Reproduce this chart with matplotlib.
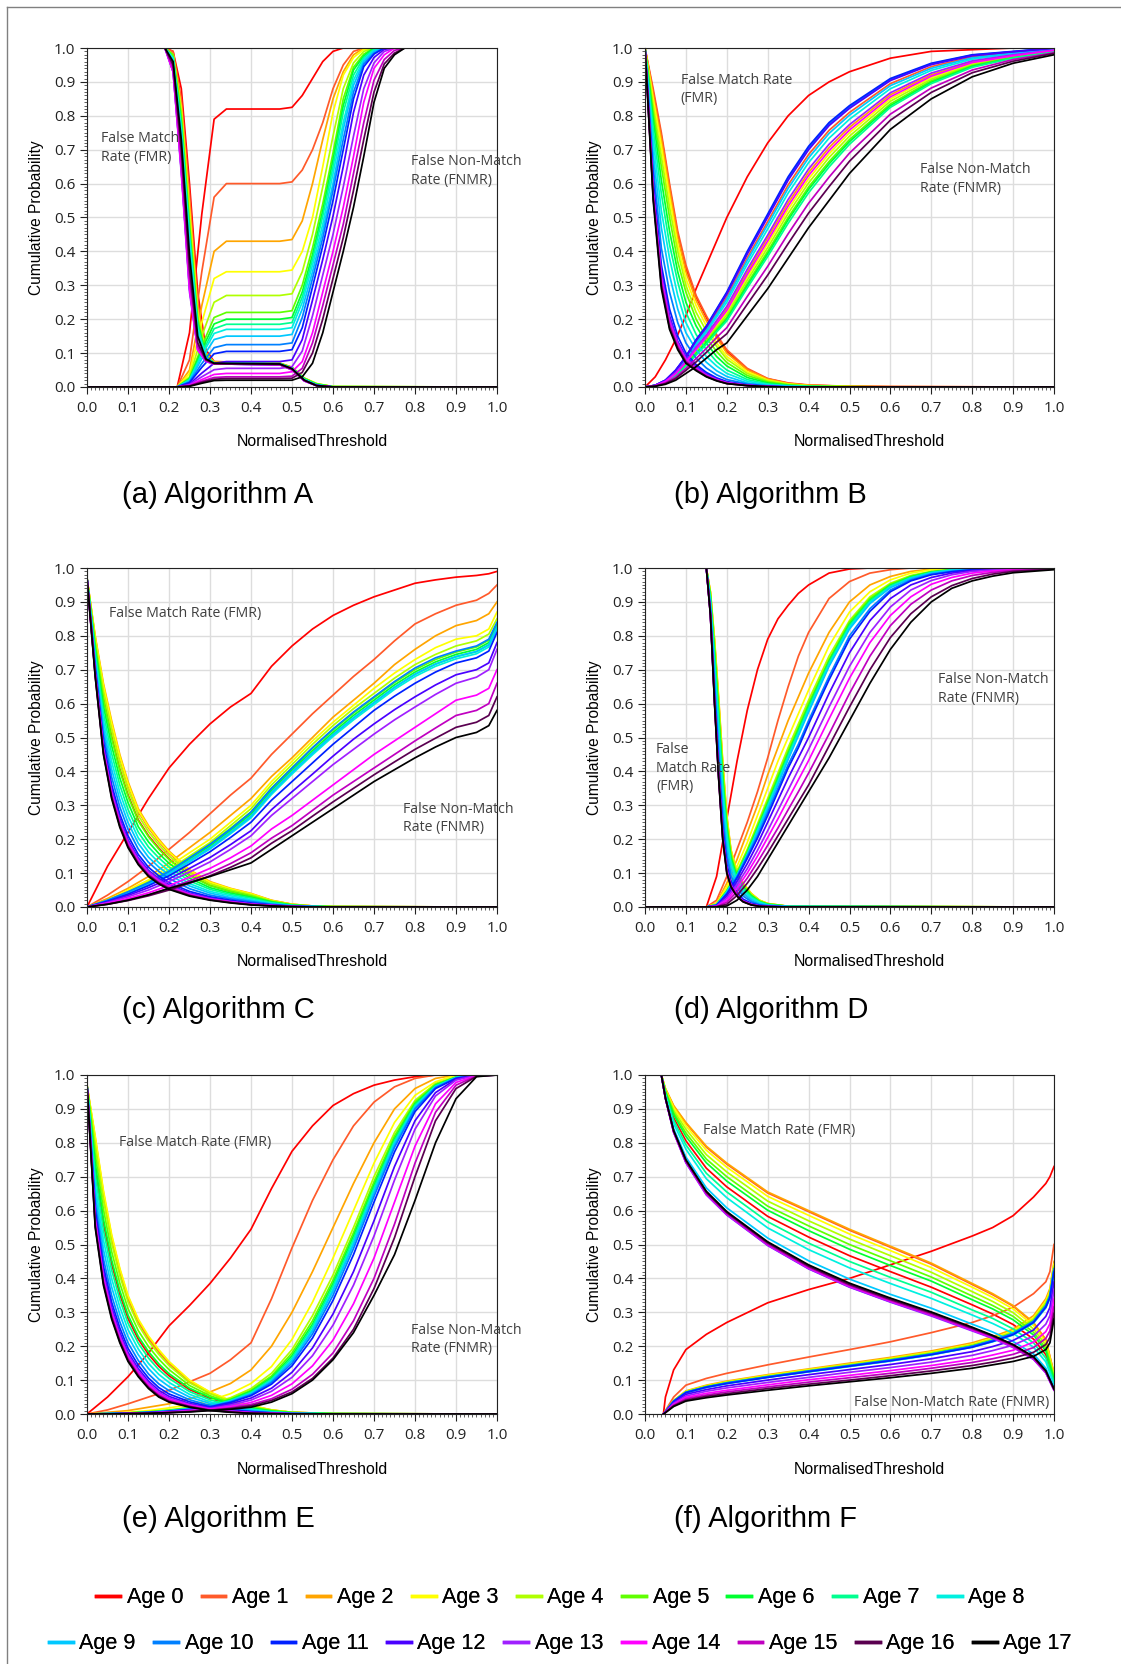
import matplotlib
matplotlib.use("Agg")
import matplotlib.pyplot as plt
from matplotlib.ticker import MultipleLocator
from matplotlib.lines import Line2D

AGES = ["Age %d" % i for i in range(18)]
COLOURS = ['#ff0000', '#ff5a2a', '#ffa500', '#ffff00', '#b0ff00', '#60ff00',
           '#00ff30', '#00ff90', '#00f0e0', '#00c8ff', '#0080ff', '#0020ff',
           '#4a00ff', '#a020ff', '#ff00ff', '#c000c0', '#5a0050', '#000000']

# ---------- (a) Algorithm A ----------
A_FMR_X = [0.0, 0.19, 0.21, 0.23, 0.25, 0.27, 0.29, 0.31, 0.47, 0.50, 0.53, 0.56, 0.60, 1.0]
A_FMR = [
    [1, 1, 0.99, 0.88, 0.60, 0.28, 0.11, 0.075, 0.07, 0.058, 0.025, 0.008, 0, 0],
    [1, 1, 0.99, 0.85, 0.57, 0.25, 0.10, 0.074, 0.07, 0.058, 0.025, 0.008, 0, 0],
    [1, 1, 0.98, 0.83, 0.54, 0.23, 0.10, 0.073, 0.07, 0.058, 0.026, 0.009, 0.001, 0],
    [1, 1, 0.98, 0.82, 0.52, 0.22, 0.095, 0.072, 0.07, 0.058, 0.026, 0.01, 0.001, 0],
    [1, 1, 0.98, 0.81, 0.50, 0.21, 0.095, 0.072, 0.07, 0.057, 0.026, 0.01, 0.001, 0],
    [1, 1, 0.98, 0.80, 0.48, 0.20, 0.09, 0.071, 0.069, 0.057, 0.025, 0.009, 0.001, 0],
    [1, 1, 0.97, 0.78, 0.46, 0.19, 0.09, 0.071, 0.069, 0.056, 0.024, 0.008, 0.001, 0],
    [1, 1, 0.97, 0.77, 0.45, 0.18, 0.088, 0.07, 0.068, 0.056, 0.023, 0.007, 0, 0],
    [1, 1, 0.97, 0.76, 0.44, 0.17, 0.087, 0.07, 0.068, 0.055, 0.022, 0.006, 0, 0],
    [1, 1, 0.96, 0.73, 0.40, 0.155, 0.083, 0.07, 0.068, 0.055, 0.021, 0.006, 0, 0],
    [1, 1, 0.95, 0.70, 0.35, 0.13, 0.08, 0.069, 0.067, 0.054, 0.02, 0.005, 0, 0],
    [1, 1, 0.94, 0.67, 0.32, 0.12, 0.078, 0.068, 0.066, 0.052, 0.019, 0.005, 0, 0],
    [1, 1, 0.93, 0.64, 0.29, 0.11, 0.076, 0.068, 0.066, 0.051, 0.018, 0.004, 0, 0],
    [1, 1, 0.93, 0.63, 0.28, 0.11, 0.075, 0.068, 0.066, 0.05, 0.018, 0.004, 0, 0],
    [1, 1, 0.93, 0.64, 0.29, 0.11, 0.076, 0.068, 0.066, 0.051, 0.018, 0.004, 0, 0],
    [1, 1, 0.94, 0.67, 0.32, 0.12, 0.078, 0.068, 0.066, 0.052, 0.019, 0.004, 0, 0],
    [1, 1, 0.95, 0.70, 0.35, 0.13, 0.08, 0.069, 0.067, 0.053, 0.02, 0.004, 0, 0],
    [1, 1, 0.96, 0.73, 0.39, 0.15, 0.083, 0.07, 0.068, 0.054, 0.02, 0.004, 0, 0],
]
A_FNMR_X = [0.0, 0.22, 0.25, 0.28, 0.31, 0.34, 0.47, 0.50, 0.525, 0.55, 0.575, 0.60,
            0.625, 0.65, 0.675, 0.70, 0.725, 0.75, 0.775, 0.80, 1.0]
A_FNMR = [
    [0, 0, 0.16, 0.51, 0.79, 0.82, 0.82, 0.825, 0.86, 0.91, 0.96, 0.99, 1, 1, 1, 1, 1, 1, 1, 1, 1],
    [0, 0, 0.08, 0.34, 0.56, 0.60, 0.60, 0.605, 0.64, 0.70, 0.78, 0.88, 0.95, 0.99, 1, 1, 1, 1, 1, 1, 1],
    [0, 0, 0.05, 0.24, 0.40, 0.43, 0.43, 0.435, 0.49, 0.60, 0.73, 0.85, 0.93, 0.98, 1, 1, 1, 1, 1, 1, 1],
    [0, 0, 0.04, 0.19, 0.32, 0.34, 0.34, 0.345, 0.40, 0.50, 0.65, 0.81, 0.92, 0.972, 0.996, 1, 1, 1, 1, 1, 1],
    [0, 0, 0.03, 0.15, 0.25, 0.27, 0.27, 0.275, 0.34, 0.45, 0.59, 0.74, 0.88, 0.956, 0.99, 1, 1, 1, 1, 1, 1],
    [0, 0, 0.026, 0.12, 0.205, 0.22, 0.22, 0.225, 0.30, 0.41, 0.54, 0.69, 0.85, 0.943, 0.982, 1, 1, 1, 1, 1, 1],
    [0, 0, 0.024, 0.11, 0.186, 0.20, 0.20, 0.205, 0.28, 0.39, 0.52, 0.67, 0.83, 0.935, 0.977, 1, 1, 1, 1, 1, 1],
    [0, 0, 0.022, 0.10, 0.172, 0.185, 0.185, 0.19, 0.265, 0.376, 0.504, 0.65, 0.81, 0.92, 0.972, 0.996, 1, 1, 1, 1, 1],
    [0, 0, 0.02, 0.094, 0.158, 0.17, 0.17, 0.175, 0.25, 0.36, 0.48, 0.63, 0.78, 0.905, 0.966, 0.993, 1, 1, 1, 1, 1],
    [0, 0, 0.018, 0.083, 0.14, 0.15, 0.15, 0.155, 0.23, 0.34, 0.46, 0.60, 0.76, 0.89, 0.96, 0.99, 1, 1, 1, 1, 1],
    [0, 0, 0.015, 0.069, 0.116, 0.125, 0.125, 0.13, 0.205, 0.32, 0.44, 0.58, 0.73, 0.87, 0.953, 0.985, 1, 1, 1, 1, 1],
    [0, 0, 0.013, 0.058, 0.098, 0.105, 0.105, 0.11, 0.175, 0.295, 0.416, 0.55, 0.70, 0.85, 0.945, 0.982, 1, 1, 1, 1, 1],
    [0, 0, 0.009, 0.041, 0.07, 0.075, 0.075, 0.08, 0.14, 0.256, 0.376, 0.504, 0.65, 0.81, 0.92, 0.972, 0.996, 1, 1, 1, 1],
    [0, 0, 0.007, 0.03, 0.051, 0.055, 0.055, 0.06, 0.106, 0.21, 0.33, 0.45, 0.59, 0.74, 0.88, 0.956, 0.99, 1, 1, 1, 1],
    [0, 0, 0.005, 0.022, 0.037, 0.04, 0.04, 0.045, 0.075, 0.16, 0.28, 0.40, 0.53, 0.68, 0.84, 0.94, 0.98, 1, 1, 1, 1],
    [0, 0, 0.004, 0.017, 0.028, 0.03, 0.03, 0.032, 0.055, 0.13, 0.24, 0.36, 0.48, 0.63, 0.78, 0.905, 0.966, 0.993, 1, 1, 1],
    [0, 0, 0.003, 0.014, 0.023, 0.025, 0.025, 0.026, 0.043, 0.10, 0.20, 0.32, 0.44, 0.58, 0.73, 0.87, 0.953, 0.985, 1, 1, 1],
    [0, 0, 0.002, 0.011, 0.019, 0.02, 0.02, 0.02, 0.03, 0.07, 0.16, 0.28, 0.40, 0.53, 0.68, 0.84, 0.94, 0.98, 1, 1, 1],
]

# ---------- (b) Algorithm B ----------
B_FMR_X = [0, 0.02, 0.04, 0.06, 0.08, 0.10, 0.125, 0.15, 0.175, 0.20, 0.25, 0.30, 0.35, 0.40, 0.50, 0.60, 1.0]
B_FMR = [
    [1.0, 0.87, 0.74, 0.59, 0.45, 0.35, 0.265, 0.205, 0.15, 0.105, 0.052, 0.024, 0.011, 0.005, 0.002, 0.001, 0],
    [1.0, 0.88, 0.75, 0.60, 0.46, 0.36, 0.27, 0.21, 0.155, 0.11, 0.055, 0.025, 0.012, 0.006, 0.002, 0.001, 0],
    [1.0, 0.86, 0.73, 0.58, 0.44, 0.34, 0.255, 0.195, 0.145, 0.10, 0.05, 0.023, 0.01, 0.005, 0.002, 0.001, 0],
    [1.0, 0.85, 0.71, 0.56, 0.42, 0.32, 0.24, 0.18, 0.13, 0.09, 0.045, 0.02, 0.009, 0.004, 0.001, 0, 0],
    [1.0, 0.83, 0.68, 0.53, 0.40, 0.30, 0.22, 0.165, 0.12, 0.082, 0.04, 0.018, 0.008, 0.003, 0.001, 0, 0],
    [1.0, 0.81, 0.65, 0.50, 0.37, 0.28, 0.20, 0.145, 0.105, 0.072, 0.034, 0.015, 0.006, 0.003, 0.001, 0, 0],
    [1.0, 0.79, 0.61, 0.46, 0.34, 0.25, 0.18, 0.13, 0.09, 0.062, 0.028, 0.012, 0.005, 0.002, 0, 0, 0],
    [1.0, 0.76, 0.57, 0.42, 0.31, 0.22, 0.155, 0.11, 0.075, 0.05, 0.022, 0.009, 0.004, 0.001, 0, 0, 0],
    [1.0, 0.73, 0.52, 0.38, 0.27, 0.19, 0.13, 0.09, 0.062, 0.04, 0.017, 0.007, 0.003, 0.001, 0, 0, 0],
    [1.0, 0.69, 0.47, 0.33, 0.23, 0.16, 0.11, 0.073, 0.048, 0.031, 0.012, 0.005, 0.002, 0, 0, 0, 0],
    [1.0, 0.65, 0.41, 0.28, 0.19, 0.13, 0.085, 0.056, 0.036, 0.022, 0.009, 0.003, 0.001, 0, 0, 0, 0],
    [1.0, 0.61, 0.36, 0.23, 0.15, 0.10, 0.066, 0.043, 0.027, 0.016, 0.006, 0.002, 0, 0, 0, 0, 0],
    [1.0, 0.59, 0.34, 0.21, 0.135, 0.09, 0.06, 0.038, 0.024, 0.014, 0.005, 0.002, 0, 0, 0, 0, 0],
    [1.0, 0.58, 0.33, 0.20, 0.13, 0.085, 0.057, 0.036, 0.022, 0.013, 0.005, 0.001, 0, 0, 0, 0, 0],
    [1.0, 0.57, 0.32, 0.19, 0.125, 0.08, 0.054, 0.034, 0.021, 0.012, 0.005, 0.001, 0, 0, 0, 0, 0],
    [1.0, 0.565, 0.31, 0.185, 0.12, 0.077, 0.052, 0.033, 0.02, 0.011, 0.004, 0.001, 0, 0, 0, 0, 0],
    [1.0, 0.56, 0.30, 0.175, 0.115, 0.073, 0.05, 0.031, 0.019, 0.01, 0.004, 0.001, 0, 0, 0, 0, 0],
    [1.0, 0.55, 0.29, 0.17, 0.11, 0.07, 0.048, 0.03, 0.018, 0.01, 0.004, 0.001, 0, 0, 0, 0, 0],
]
B_FNMR_X = [0, 0.025, 0.05, 0.075, 0.1, 0.125, 0.15, 0.175, 0.2, 0.25, 0.3, 0.35, 0.4, 0.45,
            0.5, 0.6, 0.7, 0.8, 0.9, 1.0]
B_FNMR = [
    [0, 0.03, 0.08, 0.14, 0.21, 0.29, 0.36, 0.43, 0.50, 0.62, 0.72, 0.80, 0.86, 0.90, 0.93, 0.97, 0.99, 0.995, 1.0, 1.0],
    [0, 0.005, 0.019, 0.047, 0.085, 0.132, 0.17, 0.218, 0.265, 0.381, 0.488, 0.596, 0.686, 0.757, 0.81, 0.895, 0.945, 0.974, 0.987, 0.998],
    [0, 0.004, 0.016, 0.04, 0.074, 0.114, 0.15, 0.192, 0.232, 0.339, 0.44, 0.543, 0.633, 0.706, 0.766, 0.862, 0.921, 0.959, 0.979, 0.994],
    [0, 0.004, 0.015, 0.038, 0.07, 0.108, 0.142, 0.182, 0.22, 0.324, 0.422, 0.524, 0.614, 0.688, 0.75, 0.85, 0.913, 0.954, 0.976, 0.992],
    [0, 0.004, 0.015, 0.037, 0.068, 0.104, 0.137, 0.176, 0.213, 0.315, 0.411, 0.512, 0.602, 0.677, 0.74, 0.843, 0.908, 0.951, 0.974, 0.991],
    [0, 0.004, 0.014, 0.035, 0.065, 0.10, 0.133, 0.17, 0.205, 0.305, 0.40, 0.50, 0.59, 0.665, 0.73, 0.835, 0.903, 0.948, 0.973, 0.99],
    [0, 0.003, 0.014, 0.034, 0.064, 0.098, 0.13, 0.166, 0.2, 0.299, 0.393, 0.493, 0.583, 0.658, 0.724, 0.83, 0.899, 0.946, 0.971, 0.989],
    [0, 0.003, 0.013, 0.033, 0.062, 0.094, 0.126, 0.162, 0.195, 0.292, 0.385, 0.483, 0.573, 0.649, 0.716, 0.825, 0.895, 0.943, 0.97, 0.989],
    [0, 0.004, 0.018, 0.044, 0.08, 0.124, 0.161, 0.206, 0.25, 0.362, 0.466, 0.572, 0.662, 0.734, 0.79, 0.88, 0.934, 0.967, 0.983, 0.996],
    [0, 0.005, 0.018, 0.046, 0.083, 0.129, 0.167, 0.213, 0.259, 0.373, 0.479, 0.586, 0.676, 0.748, 0.802, 0.889, 0.94, 0.971, 0.985, 0.997],
    [0, 0.005, 0.02, 0.049, 0.089, 0.138, 0.178, 0.228, 0.277, 0.396, 0.506, 0.615, 0.705, 0.775, 0.826, 0.907, 0.953, 0.979, 0.989, 1.0],
    [0, 0.005, 0.02, 0.05, 0.09, 0.14, 0.18, 0.23, 0.28, 0.40, 0.51, 0.62, 0.71, 0.78, 0.83, 0.91, 0.955, 0.98, 0.99, 1.0],
    [0, 0.005, 0.02, 0.049, 0.088, 0.137, 0.176, 0.225, 0.274, 0.392, 0.501, 0.61, 0.70, 0.771, 0.822, 0.904, 0.951, 0.977, 0.989, 0.999],
    [0, 0.004, 0.017, 0.042, 0.076, 0.118, 0.153, 0.196, 0.238, 0.347, 0.448, 0.553, 0.643, 0.716, 0.774, 0.868, 0.926, 0.962, 0.98, 0.994],
    [0, 0.004, 0.016, 0.039, 0.072, 0.111, 0.146, 0.187, 0.226, 0.332, 0.431, 0.534, 0.624, 0.697, 0.758, 0.856, 0.917, 0.957, 0.977, 0.993],
    [0, 0.003, 0.012, 0.029, 0.055, 0.084, 0.114, 0.146, 0.175, 0.267, 0.356, 0.452, 0.542, 0.619, 0.69, 0.805, 0.882, 0.935, 0.966, 0.986],
    [0, 0.003, 0.01, 0.025, 0.049, 0.074, 0.102, 0.132, 0.157, 0.244, 0.33, 0.423, 0.513, 0.591, 0.666, 0.787, 0.869, 0.927, 0.961, 0.984],
    [0, 0.002, 0.008, 0.02, 0.04, 0.06, 0.085, 0.11, 0.13, 0.21, 0.29, 0.38, 0.47, 0.55, 0.63, 0.76, 0.85, 0.915, 0.955, 0.98],
]

# ---------- (c) Algorithm C ----------
C_FMR_X = [0, 0.02, 0.04, 0.06, 0.08, 0.10, 0.125, 0.15, 0.175, 0.20, 0.25, 0.30, 0.35, 0.40,
           0.45, 0.50, 0.55, 0.60, 1.0]
C_FMR = [
    [0.97, 0.776, 0.618, 0.504, 0.407, 0.331, 0.257, 0.21, 0.174, 0.142, 0.094, 0.064, 0.046, 0.033, 0.017, 0.007, 0.002, 0.001, 0],
    [0.97, 0.794, 0.65, 0.539, 0.439, 0.36, 0.282, 0.233, 0.193, 0.159, 0.106, 0.072, 0.053, 0.038, 0.019, 0.008, 0.003, 0.001, 0],
    [0.97, 0.80, 0.66, 0.55, 0.45, 0.37, 0.29, 0.24, 0.20, 0.165, 0.11, 0.075, 0.055, 0.04, 0.02, 0.008, 0.003, 0.001, 0],
    [0.97, 0.796, 0.654, 0.543, 0.444, 0.364, 0.285, 0.236, 0.196, 0.162, 0.108, 0.073, 0.054, 0.039, 0.019, 0.008, 0.003, 0.001, 0],
    [0.97, 0.786, 0.635, 0.522, 0.424, 0.347, 0.27, 0.222, 0.184, 0.151, 0.101, 0.068, 0.05, 0.036, 0.018, 0.007, 0.003, 0.001, 0],
    [0.97, 0.774, 0.614, 0.499, 0.403, 0.327, 0.254, 0.207, 0.171, 0.14, 0.093, 0.063, 0.046, 0.033, 0.016, 0.006, 0.002, 0.001, 0],
    [0.97, 0.762, 0.593, 0.476, 0.381, 0.308, 0.237, 0.192, 0.158, 0.129, 0.085, 0.057, 0.041, 0.029, 0.015, 0.006, 0.002, 0.001, 0],
    [0.97, 0.75, 0.572, 0.453, 0.36, 0.288, 0.221, 0.177, 0.145, 0.118, 0.077, 0.052, 0.037, 0.026, 0.013, 0.005, 0.002, 0, 0],
    [0.97, 0.738, 0.551, 0.43, 0.338, 0.269, 0.204, 0.162, 0.131, 0.106, 0.069, 0.046, 0.033, 0.022, 0.011, 0.004, 0.001, 0, 0],
    [0.97, 0.726, 0.53, 0.407, 0.317, 0.249, 0.188, 0.147, 0.118, 0.095, 0.062, 0.041, 0.028, 0.019, 0.009, 0.004, 0.001, 0, 0],
    [0.97, 0.714, 0.509, 0.384, 0.295, 0.23, 0.171, 0.132, 0.105, 0.084, 0.054, 0.035, 0.024, 0.016, 0.008, 0.003, 0.001, 0, 0],
    [0.97, 0.702, 0.488, 0.361, 0.274, 0.21, 0.155, 0.117, 0.092, 0.072, 0.046, 0.03, 0.02, 0.012, 0.006, 0.002, 0.001, 0, 0],
    [0.97, 0.694, 0.475, 0.348, 0.261, 0.198, 0.145, 0.108, 0.084, 0.066, 0.041, 0.027, 0.017, 0.01, 0.005, 0.002, 0, 0, 0],
    [0.97, 0.691, 0.469, 0.341, 0.254, 0.193, 0.14, 0.104, 0.08, 0.062, 0.039, 0.025, 0.016, 0.009, 0.005, 0.002, 0, 0, 0],
    [0.97, 0.687, 0.463, 0.334, 0.248, 0.187, 0.135, 0.099, 0.076, 0.059, 0.037, 0.023, 0.015, 0.008, 0.004, 0.001, 0, 0, 0],
    [0.97, 0.685, 0.458, 0.329, 0.244, 0.183, 0.132, 0.096, 0.073, 0.057, 0.035, 0.022, 0.014, 0.007, 0.004, 0.001, 0, 0, 0],
    [0.97, 0.682, 0.454, 0.325, 0.239, 0.179, 0.128, 0.093, 0.071, 0.054, 0.034, 0.021, 0.013, 0.007, 0.003, 0.001, 0, 0, 0],
    [0.97, 0.68, 0.45, 0.32, 0.235, 0.175, 0.125, 0.09, 0.068, 0.052, 0.032, 0.02, 0.012, 0.006, 0.003, 0.001, 0, 0, 0],
]
C_FNMR_X = [0, 0.05, 0.1, 0.15, 0.2, 0.25, 0.3, 0.35, 0.4, 0.45, 0.5, 0.55, 0.6, 0.65, 0.7,
            0.75, 0.8, 0.85, 0.9, 0.95, 0.98, 1.0]
C_FNMR = [
    [0, 0.12, 0.22, 0.32, 0.41, 0.48, 0.54, 0.59, 0.63, 0.71, 0.77, 0.82, 0.86, 0.89, 0.915, 0.935, 0.955, 0.965, 0.973, 0.978, 0.983, 0.99],
    [0, 0.035, 0.075, 0.12, 0.17, 0.22, 0.275, 0.33, 0.38, 0.45, 0.51, 0.57, 0.625, 0.68, 0.73, 0.785, 0.835, 0.865, 0.89, 0.905, 0.925, 0.95],
    [0, 0.025, 0.055, 0.09, 0.13, 0.175, 0.22, 0.27, 0.32, 0.385, 0.44, 0.50, 0.56, 0.61, 0.66, 0.715, 0.76, 0.80, 0.83, 0.845, 0.865, 0.90],
    [0, 0.02, 0.05, 0.08, 0.12, 0.16, 0.20, 0.25, 0.30, 0.37, 0.43, 0.49, 0.545, 0.595, 0.645, 0.69, 0.73, 0.765, 0.79, 0.80, 0.82, 0.87],
    [0, 0.02, 0.045, 0.075, 0.11, 0.15, 0.19, 0.24, 0.29, 0.36, 0.42, 0.48, 0.535, 0.585, 0.63, 0.675, 0.715, 0.745, 0.77, 0.785, 0.805, 0.85],
    [0, 0.019, 0.043, 0.072, 0.106, 0.145, 0.185, 0.232, 0.28, 0.35, 0.41, 0.468, 0.522, 0.572, 0.617, 0.662, 0.70, 0.73, 0.752, 0.767, 0.787, 0.835],
    [0, 0.018, 0.042, 0.07, 0.103, 0.141, 0.18, 0.226, 0.274, 0.344, 0.404, 0.461, 0.515, 0.565, 0.61, 0.655, 0.693, 0.723, 0.745, 0.76, 0.78, 0.83],
    [0, 0.018, 0.041, 0.068, 0.1, 0.137, 0.175, 0.221, 0.268, 0.338, 0.398, 0.455, 0.509, 0.558, 0.603, 0.648, 0.686, 0.716, 0.738, 0.753, 0.773, 0.825],
    [0, 0.017, 0.04, 0.066, 0.097, 0.133, 0.171, 0.216, 0.263, 0.332, 0.392, 0.449, 0.503, 0.552, 0.597, 0.642, 0.68, 0.71, 0.732, 0.747, 0.767, 0.82],
    [0, 0.017, 0.04, 0.067, 0.099, 0.136, 0.174, 0.219, 0.267, 0.337, 0.397, 0.454, 0.508, 0.558, 0.603, 0.648, 0.687, 0.717, 0.739, 0.754, 0.774, 0.825],
    [0, 0.02, 0.045, 0.072, 0.105, 0.145, 0.185, 0.23, 0.28, 0.35, 0.41, 0.47, 0.525, 0.575, 0.62, 0.665, 0.705, 0.735, 0.755, 0.77, 0.79, 0.84],
    [0, 0.017, 0.038, 0.063, 0.092, 0.127, 0.163, 0.205, 0.25, 0.315, 0.37, 0.425, 0.48, 0.53, 0.58, 0.622, 0.66, 0.693, 0.72, 0.735, 0.755, 0.81],
    [0, 0.015, 0.034, 0.057, 0.083, 0.114, 0.146, 0.184, 0.225, 0.287, 0.34, 0.392, 0.445, 0.495, 0.54, 0.582, 0.62, 0.655, 0.685, 0.70, 0.72, 0.78],
    [0, 0.013, 0.03, 0.05, 0.075, 0.103, 0.133, 0.17, 0.21, 0.27, 0.32, 0.37, 0.42, 0.465, 0.51, 0.552, 0.59, 0.627, 0.66, 0.678, 0.70, 0.76],
    [0, 0.011, 0.025, 0.042, 0.063, 0.088, 0.114, 0.145, 0.18, 0.23, 0.27, 0.315, 0.36, 0.405, 0.45, 0.49, 0.53, 0.57, 0.61, 0.625, 0.645, 0.70],
    [0, 0.009, 0.021, 0.036, 0.055, 0.077, 0.1, 0.128, 0.16, 0.203, 0.24, 0.285, 0.33, 0.37, 0.41, 0.45, 0.49, 0.528, 0.565, 0.58, 0.60, 0.66],
    [0, 0.008, 0.019, 0.033, 0.05, 0.07, 0.092, 0.117, 0.145, 0.188, 0.225, 0.268, 0.31, 0.35, 0.39, 0.428, 0.465, 0.498, 0.53, 0.545, 0.565, 0.62],
    [0, 0.008, 0.02, 0.036, 0.055, 0.072, 0.09, 0.11, 0.13, 0.17, 0.21, 0.25, 0.29, 0.33, 0.37, 0.405, 0.44, 0.472, 0.50, 0.515, 0.535, 0.58],
]

# ---------- (d) Algorithm D ----------
D_FMR_X = [0, 0.15, 0.16, 0.17, 0.18, 0.19, 0.20, 0.21, 0.22, 0.23, 0.24, 0.26, 0.28, 0.30, 0.35, 1.0]
D_FMR = [
    [1, 1, 0.892, 0.686, 0.488, 0.303, 0.177, 0.11, 0.078, 0.059, 0.04, 0.021, 0.01, 0.005, 0.001, 0],
    [1, 1, 0.927, 0.78, 0.608, 0.419, 0.262, 0.165, 0.121, 0.096, 0.067, 0.038, 0.019, 0.01, 0.002, 0],
    [1, 1, 0.93, 0.79, 0.62, 0.43, 0.27, 0.17, 0.125, 0.10, 0.07, 0.04, 0.02, 0.01, 0.002, 0],
    [1, 1, 0.929, 0.786, 0.615, 0.425, 0.267, 0.168, 0.123, 0.099, 0.069, 0.039, 0.02, 0.01, 0.002, 0],
    [1, 1, 0.924, 0.775, 0.601, 0.412, 0.256, 0.161, 0.118, 0.094, 0.066, 0.037, 0.019, 0.009, 0.002, 0],
    [1, 1, 0.92, 0.762, 0.584, 0.396, 0.245, 0.154, 0.112, 0.089, 0.062, 0.035, 0.017, 0.009, 0.002, 0],
    [1, 1, 0.915, 0.748, 0.567, 0.379, 0.233, 0.146, 0.106, 0.084, 0.058, 0.033, 0.016, 0.008, 0.002, 0],
    [1, 1, 0.909, 0.733, 0.548, 0.361, 0.219, 0.137, 0.1, 0.078, 0.054, 0.03, 0.015, 0.007, 0.001, 0],
    [1, 1, 0.902, 0.714, 0.524, 0.338, 0.202, 0.126, 0.091, 0.07, 0.048, 0.026, 0.013, 0.006, 0.001, 0],
    [1, 1, 0.892, 0.686, 0.488, 0.303, 0.177, 0.11, 0.078, 0.059, 0.04, 0.021, 0.01, 0.005, 0.001, 0],
    [1, 1, 0.881, 0.657, 0.452, 0.269, 0.151, 0.093, 0.066, 0.048, 0.032, 0.016, 0.007, 0.004, 0.001, 0],
    [1, 1, 0.87, 0.629, 0.416, 0.235, 0.126, 0.077, 0.053, 0.036, 0.023, 0.011, 0.005, 0.002, 0, 0],
    [1, 1, 0.866, 0.615, 0.399, 0.218, 0.114, 0.069, 0.047, 0.031, 0.019, 0.009, 0.003, 0.002, 0, 0],
    [1, 1, 0.864, 0.61, 0.392, 0.212, 0.109, 0.066, 0.044, 0.029, 0.018, 0.008, 0.003, 0.001, 0, 0],
    [1, 1, 0.862, 0.606, 0.387, 0.207, 0.105, 0.063, 0.042, 0.027, 0.017, 0.007, 0.003, 0.001, 0, 0],
    [1, 1, 0.861, 0.604, 0.385, 0.205, 0.103, 0.062, 0.042, 0.026, 0.016, 0.007, 0.002, 0.001, 0, 0],
    [1, 1, 0.861, 0.602, 0.382, 0.202, 0.102, 0.061, 0.041, 0.026, 0.016, 0.006, 0.002, 0.001, 0, 0],
    [1, 1, 0.86, 0.60, 0.38, 0.20, 0.10, 0.06, 0.04, 0.025, 0.015, 0.006, 0.002, 0.001, 0, 0],
]
D_FNMR_X = [0, 0.15, 0.175, 0.2, 0.225, 0.25, 0.275, 0.3, 0.325, 0.35, 0.375, 0.4, 0.45, 0.5,
            0.55, 0.6, 0.65, 0.7, 0.75, 0.8, 0.85, 0.9, 1.0]
D_FNMR = [
    [0, 0, 0.09, 0.26, 0.43, 0.58, 0.70, 0.79, 0.85, 0.89, 0.925, 0.95, 0.985, 0.997, 1, 1, 1, 1, 1, 1, 1, 1, 1],
    [0, 0, 0.02, 0.09, 0.17, 0.25, 0.34, 0.44, 0.55, 0.65, 0.74, 0.81, 0.91, 0.96, 0.985, 0.995, 1, 1, 1, 1, 1, 1, 1],
    [0, 0, 0.012, 0.07, 0.14, 0.22, 0.30, 0.39, 0.47, 0.55, 0.62, 0.69, 0.81, 0.90, 0.95, 0.975, 0.99, 0.997, 1, 1, 1, 1, 1],
    [0, 0, 0.01, 0.06, 0.12, 0.19, 0.27, 0.35, 0.43, 0.50, 0.57, 0.64, 0.77, 0.87, 0.93, 0.965, 0.985, 0.995, 1, 1, 1, 1, 1],
    [0, 0, 0.008, 0.05, 0.105, 0.17, 0.245, 0.32, 0.395, 0.47, 0.54, 0.61, 0.74, 0.845, 0.915, 0.955, 0.978, 0.99, 0.996, 1, 1, 1, 1],
    [0, 0, 0.007, 0.048, 0.1, 0.165, 0.238, 0.312, 0.386, 0.46, 0.53, 0.60, 0.73, 0.84, 0.91, 0.952, 0.976, 0.989, 0.995, 1, 1, 1, 1],
    [0, 0, 0.007, 0.046, 0.097, 0.16, 0.232, 0.305, 0.378, 0.452, 0.522, 0.592, 0.724, 0.834, 0.905, 0.949, 0.974, 0.988, 0.995, 0.998, 1, 1, 1],
    [0, 0, 0.006, 0.045, 0.095, 0.157, 0.228, 0.30, 0.373, 0.447, 0.517, 0.587, 0.72, 0.83, 0.902, 0.947, 0.972, 0.987, 0.994, 0.998, 1, 1, 1],
    [0, 0, 0.006, 0.044, 0.093, 0.154, 0.224, 0.295, 0.367, 0.44, 0.51, 0.58, 0.714, 0.825, 0.898, 0.944, 0.97, 0.986, 0.994, 0.998, 1, 1, 1],
    [0, 0, 0.006, 0.043, 0.091, 0.151, 0.22, 0.29, 0.362, 0.435, 0.505, 0.575, 0.71, 0.82, 0.895, 0.942, 0.969, 0.985, 0.993, 0.997, 1, 1, 1],
    [0, 0, 0.005, 0.04, 0.09, 0.15, 0.21, 0.28, 0.35, 0.42, 0.48, 0.55, 0.68, 0.80, 0.88, 0.935, 0.965, 0.982, 0.99, 0.995, 1, 1, 1],
    [0, 0, 0.005, 0.038, 0.086, 0.143, 0.203, 0.27, 0.34, 0.41, 0.47, 0.54, 0.67, 0.79, 0.872, 0.93, 0.962, 0.98, 0.989, 0.995, 0.998, 1, 1],
    [0, 0, 0.004, 0.032, 0.076, 0.128, 0.186, 0.25, 0.315, 0.38, 0.44, 0.50, 0.63, 0.75, 0.845, 0.91, 0.95, 0.972, 0.985, 0.992, 0.996, 0.998, 1],
    [0, 0, 0.003, 0.026, 0.066, 0.113, 0.167, 0.225, 0.285, 0.345, 0.405, 0.465, 0.59, 0.71, 0.81, 0.885, 0.935, 0.963, 0.98, 0.99, 0.994, 0.997, 1],
    [0, 0, 0.002, 0.02, 0.056, 0.1, 0.15, 0.205, 0.26, 0.318, 0.375, 0.432, 0.555, 0.675, 0.78, 0.86, 0.915, 0.952, 0.972, 0.985, 0.991, 0.995, 0.999],
    [0, 0, 0.001, 0.014, 0.045, 0.085, 0.132, 0.182, 0.233, 0.287, 0.34, 0.395, 0.51, 0.63, 0.74, 0.83, 0.893, 0.935, 0.962, 0.978, 0.987, 0.993, 0.998],
    [0, 0, 0.001, 0.008, 0.034, 0.07, 0.113, 0.16, 0.21, 0.26, 0.31, 0.36, 0.475, 0.59, 0.70, 0.795, 0.865, 0.915, 0.948, 0.969, 0.982, 0.99, 0.997],
    [0, 0, 0, 0.003, 0.02, 0.05, 0.09, 0.14, 0.19, 0.24, 0.29, 0.34, 0.44, 0.55, 0.66, 0.76, 0.84, 0.90, 0.94, 0.962, 0.976, 0.986, 0.995],
]

# ---------- (e) Algorithm E ----------
E_FMR_X = [0, 0.02, 0.04, 0.06, 0.08, 0.10, 0.125, 0.15, 0.175, 0.2, 0.25, 0.3, 0.35, 0.4,
           0.45, 0.5, 0.6, 1.0]
E_FMR = [
    [0.97, 0.726, 0.562, 0.443, 0.353, 0.282, 0.221, 0.176, 0.141, 0.113, 0.072, 0.046, 0.028, 0.017, 0.008, 0.003, 0.001, 0],
    [0.97, 0.807, 0.646, 0.518, 0.419, 0.34, 0.272, 0.222, 0.183, 0.149, 0.096, 0.062, 0.038, 0.024, 0.011, 0.005, 0.001, 0],
    [0.97, 0.815, 0.654, 0.525, 0.426, 0.346, 0.277, 0.227, 0.187, 0.153, 0.098, 0.064, 0.039, 0.025, 0.012, 0.005, 0.001, 0],
    [0.97, 0.82, 0.66, 0.53, 0.43, 0.35, 0.28, 0.23, 0.19, 0.155, 0.1, 0.065, 0.04, 0.025, 0.012, 0.005, 0.001, 0],
    [0.97, 0.793, 0.632, 0.505, 0.408, 0.331, 0.263, 0.215, 0.176, 0.143, 0.092, 0.06, 0.037, 0.023, 0.011, 0.005, 0.001, 0],
    [0.97, 0.766, 0.604, 0.48, 0.386, 0.311, 0.246, 0.199, 0.162, 0.131, 0.084, 0.054, 0.033, 0.02, 0.01, 0.004, 0.001, 0],
    [0.97, 0.739, 0.576, 0.455, 0.364, 0.292, 0.229, 0.184, 0.148, 0.119, 0.076, 0.049, 0.03, 0.018, 0.009, 0.004, 0.001, 0],
    [0.97, 0.707, 0.542, 0.425, 0.338, 0.268, 0.209, 0.165, 0.131, 0.105, 0.066, 0.042, 0.025, 0.015, 0.007, 0.003, 0.001, 0],
    [0.97, 0.68, 0.514, 0.40, 0.316, 0.249, 0.192, 0.149, 0.117, 0.093, 0.058, 0.036, 0.022, 0.013, 0.006, 0.002, 0, 0],
    [0.97, 0.653, 0.486, 0.375, 0.294, 0.229, 0.175, 0.134, 0.103, 0.081, 0.05, 0.031, 0.018, 0.011, 0.005, 0.002, 0, 0],
    [0.97, 0.626, 0.458, 0.35, 0.272, 0.21, 0.158, 0.118, 0.089, 0.069, 0.042, 0.025, 0.015, 0.008, 0.004, 0.001, 0, 0],
    [0.97, 0.604, 0.436, 0.33, 0.254, 0.194, 0.144, 0.106, 0.078, 0.059, 0.036, 0.021, 0.012, 0.007, 0.003, 0.001, 0, 0],
    [0.97, 0.588, 0.419, 0.315, 0.241, 0.182, 0.134, 0.097, 0.07, 0.052, 0.031, 0.018, 0.01, 0.005, 0.003, 0.001, 0, 0],
    [0.97, 0.577, 0.408, 0.305, 0.232, 0.175, 0.127, 0.091, 0.064, 0.047, 0.028, 0.016, 0.009, 0.004, 0.002, 0.001, 0, 0],
    [0.97, 0.569, 0.40, 0.298, 0.225, 0.169, 0.122, 0.086, 0.06, 0.043, 0.026, 0.014, 0.007, 0.004, 0.002, 0, 0, 0],
    [0.97, 0.561, 0.391, 0.29, 0.219, 0.163, 0.117, 0.081, 0.056, 0.04, 0.023, 0.012, 0.006, 0.003, 0.001, 0, 0, 0],
    [0.97, 0.555, 0.386, 0.285, 0.214, 0.159, 0.113, 0.078, 0.053, 0.037, 0.022, 0.011, 0.006, 0.002, 0.001, 0, 0, 0],
    [0.97, 0.55, 0.38, 0.28, 0.21, 0.155, 0.11, 0.075, 0.05, 0.035, 0.02, 0.01, 0.005, 0.002, 0.001, 0, 0, 0],
]
E_FNMR_X = [0, 0.05, 0.1, 0.15, 0.2, 0.25, 0.3, 0.35, 0.4, 0.45, 0.5, 0.55, 0.6, 0.65, 0.7,
            0.75, 0.8, 0.85, 0.9, 0.95, 1.0]
E_FNMR = [
    [0, 0.05, 0.11, 0.18, 0.26, 0.32, 0.385, 0.46, 0.545, 0.665, 0.775, 0.85, 0.91, 0.945, 0.97, 0.985, 0.995, 1.0, 1.0, 1.0, 1.0],
    [0, 0.012, 0.03, 0.05, 0.07, 0.095, 0.12, 0.16, 0.21, 0.34, 0.49, 0.63, 0.75, 0.85, 0.92, 0.965, 0.99, 1.0, 1.0, 1.0, 1.0],
    [0, 0.005, 0.01, 0.02, 0.03, 0.045, 0.065, 0.09, 0.13, 0.2, 0.3, 0.42, 0.55, 0.68, 0.80, 0.90, 0.96, 0.99, 1.0, 1.0, 1.0],
    [0, 0.002, 0.005, 0.01, 0.018, 0.028, 0.04, 0.06, 0.09, 0.14, 0.22, 0.33, 0.46, 0.60, 0.74, 0.86, 0.94, 0.98, 1.0, 1.0, 1.0],
    [0, 0.001, 0.003, 0.007, 0.012, 0.02, 0.03, 0.048, 0.075, 0.12, 0.19, 0.29, 0.41, 0.55, 0.70, 0.83, 0.925, 0.975, 0.995, 1.0, 1.0],
    [0, 0.001, 0.003, 0.006, 0.011, 0.018, 0.028, 0.044, 0.07, 0.112, 0.18, 0.275, 0.395, 0.535, 0.685, 0.82, 0.92, 0.972, 0.994, 1.0, 1.0],
    [0, 0.001, 0.003, 0.006, 0.01, 0.017, 0.026, 0.042, 0.067, 0.107, 0.172, 0.265, 0.385, 0.525, 0.675, 0.812, 0.915, 0.97, 0.993, 1.0, 1.0],
    [0, 0.001, 0.002, 0.005, 0.009, 0.016, 0.025, 0.04, 0.064, 0.103, 0.166, 0.258, 0.377, 0.516, 0.667, 0.806, 0.911, 0.968, 0.993, 1.0, 1.0],
    [0, 0.001, 0.002, 0.005, 0.009, 0.015, 0.024, 0.038, 0.061, 0.099, 0.16, 0.25, 0.368, 0.507, 0.659, 0.80, 0.907, 0.966, 0.992, 1.0, 1.0],
    [0, 0.001, 0.002, 0.005, 0.009, 0.015, 0.024, 0.038, 0.06, 0.097, 0.157, 0.245, 0.362, 0.50, 0.653, 0.795, 0.904, 0.965, 0.992, 1.0, 1.0],
    [0, 0.001, 0.002, 0.005, 0.008, 0.014, 0.022, 0.036, 0.057, 0.093, 0.15, 0.236, 0.35, 0.488, 0.642, 0.787, 0.90, 0.963, 0.991, 1.0, 1.0],
    [0, 0.001, 0.002, 0.004, 0.008, 0.013, 0.021, 0.034, 0.054, 0.088, 0.142, 0.224, 0.335, 0.47, 0.625, 0.773, 0.892, 0.96, 0.99, 1.0, 1.0],
    [0, 0, 0.002, 0.004, 0.007, 0.012, 0.018, 0.03, 0.047, 0.076, 0.123, 0.195, 0.295, 0.42, 0.57, 0.73, 0.865, 0.948, 0.988, 1.0, 1.0],
    [0, 0, 0.001, 0.003, 0.006, 0.011, 0.016, 0.026, 0.041, 0.067, 0.108, 0.172, 0.262, 0.38, 0.525, 0.69, 0.84, 0.938, 0.985, 0.999, 1.0],
    [0, 0, 0.001, 0.003, 0.005, 0.009, 0.014, 0.022, 0.034, 0.055, 0.089, 0.142, 0.218, 0.325, 0.46, 0.625, 0.79, 0.915, 0.978, 0.998, 1.0],
    [0, 0, 0.001, 0.002, 0.004, 0.008, 0.012, 0.018, 0.028, 0.045, 0.073, 0.117, 0.18, 0.275, 0.40, 0.56, 0.74, 0.89, 0.97, 0.997, 1.0],
    [0, 0, 0.001, 0.002, 0.004, 0.007, 0.011, 0.016, 0.024, 0.04, 0.065, 0.105, 0.165, 0.25, 0.37, 0.52, 0.70, 0.865, 0.96, 0.996, 1.0],
    [0, 0, 0.001, 0.002, 0.004, 0.006, 0.01, 0.014, 0.02, 0.035, 0.06, 0.10, 0.16, 0.24, 0.35, 0.47, 0.63, 0.80, 0.93, 0.995, 1.0],
]

# ---------- (f) Algorithm F ----------
F_FMR_X = [0.04, 0.05, 0.07, 0.1, 0.15, 0.2, 0.3, 0.4, 0.5, 0.6, 0.7, 0.8, 0.85, 0.9, 0.95, 0.98, 1.0]
F_FMR = [
    [1.0, 0.947, 0.874, 0.806, 0.725, 0.67, 0.583, 0.522, 0.467, 0.42, 0.374, 0.322, 0.295, 0.264, 0.221, 0.175, 0.098],
    [1.0, 0.959, 0.908, 0.858, 0.787, 0.737, 0.652, 0.597, 0.542, 0.492, 0.442, 0.382, 0.352, 0.318, 0.268, 0.218, 0.119],
    [1.0, 0.96, 0.91, 0.86, 0.79, 0.74, 0.655, 0.60, 0.545, 0.495, 0.445, 0.385, 0.355, 0.32, 0.27, 0.22, 0.12],
    [1.0, 0.958, 0.904, 0.85, 0.778, 0.728, 0.642, 0.586, 0.531, 0.482, 0.432, 0.374, 0.344, 0.31, 0.261, 0.212, 0.116],
    [1.0, 0.955, 0.896, 0.84, 0.765, 0.714, 0.628, 0.57, 0.516, 0.467, 0.418, 0.361, 0.332, 0.299, 0.251, 0.203, 0.112],
    [1.0, 0.952, 0.889, 0.829, 0.752, 0.70, 0.613, 0.555, 0.50, 0.452, 0.404, 0.348, 0.32, 0.288, 0.241, 0.194, 0.107],
    [1.0, 0.95, 0.883, 0.819, 0.741, 0.687, 0.601, 0.541, 0.486, 0.438, 0.392, 0.337, 0.31, 0.278, 0.233, 0.186, 0.103],
    [1.0, 0.944, 0.866, 0.794, 0.71, 0.655, 0.567, 0.504, 0.45, 0.403, 0.359, 0.307, 0.282, 0.251, 0.21, 0.165, 0.093],
    [1.0, 0.94, 0.857, 0.781, 0.694, 0.638, 0.549, 0.485, 0.431, 0.385, 0.341, 0.292, 0.267, 0.238, 0.197, 0.154, 0.087],
    [1.0, 0.935, 0.842, 0.758, 0.667, 0.608, 0.519, 0.452, 0.398, 0.353, 0.312, 0.265, 0.242, 0.214, 0.177, 0.135, 0.078],
    [1.0, 0.932, 0.836, 0.748, 0.655, 0.596, 0.506, 0.438, 0.384, 0.34, 0.299, 0.254, 0.231, 0.204, 0.168, 0.127, 0.074],
    [1.0, 0.932, 0.834, 0.746, 0.652, 0.593, 0.503, 0.435, 0.381, 0.336, 0.296, 0.251, 0.229, 0.201, 0.166, 0.125, 0.073],
    [1.0, 0.931, 0.832, 0.742, 0.648, 0.588, 0.498, 0.429, 0.375, 0.331, 0.291, 0.247, 0.225, 0.198, 0.162, 0.122, 0.071],
    [1.0, 0.93, 0.831, 0.741, 0.646, 0.587, 0.497, 0.428, 0.374, 0.33, 0.289, 0.245, 0.223, 0.196, 0.161, 0.121, 0.07],
    [1.0, 0.931, 0.832, 0.744, 0.649, 0.59, 0.5, 0.431, 0.377, 0.333, 0.293, 0.248, 0.226, 0.199, 0.163, 0.123, 0.072],
    [1.0, 0.931, 0.833, 0.745, 0.651, 0.591, 0.501, 0.433, 0.379, 0.335, 0.294, 0.25, 0.228, 0.2, 0.164, 0.124, 0.072],
    [1.0, 0.932, 0.835, 0.747, 0.654, 0.594, 0.505, 0.436, 0.382, 0.338, 0.298, 0.253, 0.23, 0.203, 0.167, 0.126, 0.073],
    [1.0, 0.932, 0.836, 0.75, 0.657, 0.597, 0.508, 0.44, 0.386, 0.342, 0.301, 0.256, 0.232, 0.205, 0.169, 0.128, 0.074],
]
F_FNMR_X = [0.045, 0.05, 0.07, 0.1, 0.15, 0.2, 0.3, 0.4, 0.5, 0.6, 0.7, 0.8, 0.85, 0.9, 0.95,
            0.98, 0.99, 1.0]
F_FNMR = [
    [0, 0.05, 0.13, 0.19, 0.235, 0.27, 0.328, 0.367, 0.40, 0.44, 0.48, 0.525, 0.55, 0.585, 0.64, 0.68, 0.70, 0.73],
    [0, 0.01, 0.05, 0.085, 0.105, 0.12, 0.145, 0.168, 0.19, 0.213, 0.24, 0.27, 0.29, 0.315, 0.355, 0.39, 0.42, 0.50],
    [0, 0.008, 0.04, 0.068, 0.085, 0.097, 0.116, 0.133, 0.15, 0.167, 0.186, 0.21, 0.228, 0.25, 0.29, 0.34, 0.37, 0.45],
    [0, 0.008, 0.039, 0.067, 0.083, 0.095, 0.114, 0.131, 0.147, 0.164, 0.183, 0.206, 0.224, 0.245, 0.284, 0.333, 0.362, 0.442],
    [0, 0.008, 0.039, 0.066, 0.082, 0.094, 0.112, 0.129, 0.146, 0.162, 0.181, 0.204, 0.221, 0.242, 0.28, 0.328, 0.357, 0.436],
    [0, 0.008, 0.038, 0.064, 0.081, 0.092, 0.11, 0.127, 0.143, 0.16, 0.178, 0.201, 0.218, 0.239, 0.276, 0.322, 0.351, 0.43],
    [0, 0.007, 0.037, 0.064, 0.08, 0.091, 0.11, 0.126, 0.142, 0.159, 0.177, 0.2, 0.216, 0.237, 0.273, 0.319, 0.348, 0.426],
    [0, 0.007, 0.037, 0.063, 0.079, 0.09, 0.109, 0.125, 0.141, 0.157, 0.175, 0.198, 0.215, 0.235, 0.271, 0.316, 0.344, 0.423],
    [0, 0.007, 0.037, 0.063, 0.078, 0.09, 0.108, 0.124, 0.14, 0.156, 0.174, 0.197, 0.213, 0.233, 0.268, 0.313, 0.341, 0.419],
    [0, 0.007, 0.037, 0.064, 0.079, 0.091, 0.109, 0.126, 0.142, 0.158, 0.176, 0.199, 0.216, 0.236, 0.272, 0.318, 0.346, 0.425],
    [0, 0.007, 0.038, 0.064, 0.08, 0.092, 0.11, 0.127, 0.143, 0.159, 0.177, 0.2, 0.217, 0.238, 0.274, 0.32, 0.349, 0.428],
    [0, 0.007, 0.037, 0.063, 0.079, 0.09, 0.108, 0.125, 0.141, 0.157, 0.175, 0.197, 0.214, 0.234, 0.27, 0.315, 0.343, 0.421],
    [0, 0.007, 0.034, 0.058, 0.072, 0.083, 0.1, 0.116, 0.131, 0.146, 0.163, 0.184, 0.199, 0.217, 0.248, 0.288, 0.314, 0.39],
    [0, 0.006, 0.031, 0.053, 0.067, 0.077, 0.093, 0.108, 0.123, 0.137, 0.153, 0.173, 0.187, 0.203, 0.23, 0.265, 0.29, 0.365],
    [0, 0.005, 0.028, 0.049, 0.061, 0.07, 0.086, 0.101, 0.114, 0.128, 0.143, 0.161, 0.174, 0.188, 0.212, 0.243, 0.266, 0.34],
    [0, 0.005, 0.026, 0.045, 0.056, 0.065, 0.08, 0.094, 0.107, 0.12, 0.135, 0.152, 0.163, 0.176, 0.196, 0.223, 0.245, 0.317],
    [0, 0.004, 0.024, 0.041, 0.052, 0.06, 0.075, 0.088, 0.1, 0.113, 0.127, 0.143, 0.153, 0.165, 0.182, 0.205, 0.226, 0.297],
    [0, 0.004, 0.022, 0.038, 0.048, 0.056, 0.07, 0.083, 0.095, 0.107, 0.12, 0.135, 0.145, 0.155, 0.17, 0.19, 0.21, 0.28],
]

FMR_TXT = "False Match Rate (FMR)"
FNMR_TXT = "False Non-Match Rate (FNMR)"
PANELS = [
    ("(a) Algorithm A", A_FMR_X, A_FMR, A_FNMR_X, A_FNMR,
     [(0.034, 0.705, "False Match\nRate (FMR)"), (0.79, 0.637, "False Non-Match\nRate (FNMR)")]),
    ("(b) Algorithm B", B_FMR_X, B_FMR, B_FNMR_X, B_FNMR,
     [(0.087, 0.878, "False Match Rate\n(FMR)"), (0.673, 0.614, "False Non-Match\nRate (FNMR)")]),
    ("(c) Algorithm C", C_FMR_X, C_FMR, C_FNMR_X, C_FNMR,
     [(0.054, 0.865, FMR_TXT), (0.771, 0.261, "False Non-Match\nRate (FNMR)")]),
    ("(d) Algorithm D", D_FMR_X, D_FMR, D_FNMR_X, D_FNMR,
     [(0.027, 0.41, "False\nMatch Rate\n(FMR)"), (0.717, 0.643, "False Non-Match\nRate (FNMR)")]),
    ("(e) Algorithm E", E_FMR_X, E_FMR, E_FNMR_X, E_FNMR,
     [(0.078, 0.80, FMR_TXT), (0.79, 0.219, "False Non-Match\nRate (FNMR)")]),
    ("(f) Algorithm F", F_FMR_X, F_FMR, F_FNMR_X, F_FNMR,
     [(0.142, 0.836, FMR_TXT), (0.51, 0.035, FNMR_TXT)]),
]

W, H = 1121, 1664
fig = plt.figure(figsize=(W / 100, H / 100), dpi=100)

lefts = [87, 645]
widths = [410, 409]
bottoms = [387, 907, 1414]
captions_y = [495, 1010, 1519]
TICK_FONT = ['Open Sans', 'DejaVu Sans']
LABEL_FONT = ['Liberation Sans', 'DejaVu Sans']

for n, (title, xf, fmr, xn, fnmr, notes) in enumerate(PANELS):
    row, col = n // 2, n % 2
    ax = fig.add_axes([lefts[col] / W, 1 - bottoms[row] / H, widths[col] / W, 339 / H])
    for i in range(len(AGES)):
        ax.plot(xf, fmr[i], color=COLOURS[i], lw=1.25, solid_joinstyle='round')
        ax.plot(xn, fnmr[i], color=COLOURS[i], lw=1.25, solid_joinstyle='round')
    ax.set_xlim(0, 1)
    ax.set_ylim(0, 1)
    ax.xaxis.set_major_locator(MultipleLocator(0.1))
    ax.yaxis.set_major_locator(MultipleLocator(0.1))
    ax.xaxis.set_minor_locator(MultipleLocator(0.01))
    ax.yaxis.set_minor_locator(MultipleLocator(0.01))
    ax.xaxis.set_major_formatter(lambda v, p: "%.1f" % v)
    ax.yaxis.set_major_formatter(lambda v, p: "%.1f" % v)
    ax.tick_params(which='major', length=5, width=0.8, pad=3.5, labelsize=11, colors='#222222')
    ax.tick_params(axis='x', which='major', pad=5)
    ax.tick_params(which='minor', length=2.5, width=0.6, color='#444444')
    for lab in ax.get_xticklabels() + ax.get_yticklabels():
        lab.set_family(TICK_FONT)
    ax.grid(True, which='major', color='#dddddd', lw=1.0)
    ax.set_axisbelow(True)
    for sp in ax.spines.values():
        sp.set_linewidth(0.8)
        sp.set_color('#222222')
    ax.set_xlabel("NormalisedThreshold", fontsize=11.4, family=LABEL_FONT, va='center')
    # the label sits a little right of the axes centre in the original
    ax.xaxis.set_label_coords(0.5 + 20 / 410, -55 / 339)
    ax.set_ylabel("Cumulative Probability", fontsize=11.2, family=LABEL_FONT, labelpad=7)
    for tx, ty, txt in notes:
        ax.text(tx, ty, txt, fontsize=10.2, family=TICK_FONT, color='#404040',
                ha='left', va='center', linespacing=1.3)
    cap_x = 122 if col == 0 else 674
    fig.text(cap_x / W, 1 - captions_y[row] / H, title, fontsize=21, family=LABEL_FONT,
             ha='left', va='center')

# legend, two rows
handles = [Line2D([], [], color=c, lw=2.5) for c in COLOURS]
LEG_FONT = {'family': ['Liberation Sans Narrow', 'Liberation Sans', 'DejaVu Sans'], 'size': 15.6}
for r, yy in enumerate([1598, 1644]):
    leg = fig.legend(handles[r * 9:(r + 1) * 9], AGES[r * 9:(r + 1) * 9], loc='center',
                     bbox_to_anchor=(0.5, 1 - yy / H), ncol=9, frameon=False,
                     handlelength=1.1, handletextpad=0.3, columnspacing=0.85,
                     prop=LEG_FONT, borderaxespad=0)
    fig.add_artist(leg)

# outer frame (only left and top edges fall inside the picture)
fig.add_artist(Line2D([7 / W, 7 / W], [0, 1 - 7 / H], transform=fig.transFigure,
                      color='#808080', lw=1.0))
fig.add_artist(Line2D([7 / W, 1], [1 - 7 / H, 1 - 7 / H], transform=fig.transFigure,
                      color='#808080', lw=1.0))

fig.savefig("out.png", dpi=100)
